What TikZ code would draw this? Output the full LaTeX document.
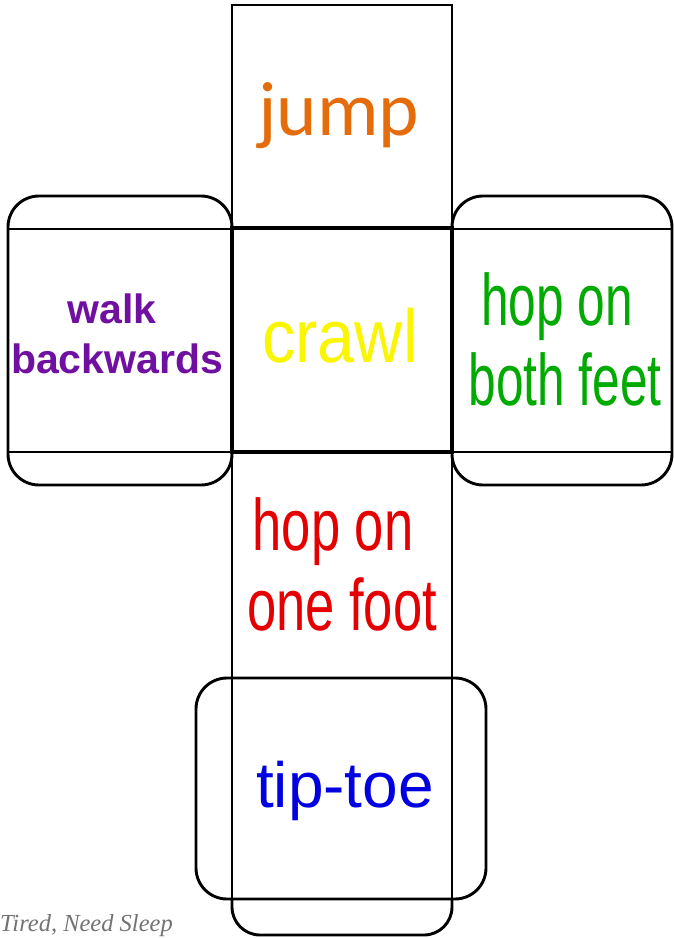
\documentclass[tikz,border=0pt]{standalone}
\usepackage{fontspec}
\setmainfont{Liberation Sans}
\newfontfamily\calib{Carlito}
\newfontfamily\wmark{Liberation Serif}
\definecolor{cOrange}{RGB}{228,108,10}
\definecolor{cYellow}{RGB}{250,245,0}
\definecolor{cPurple}{RGB}{112,16,160}
\definecolor{cGreen}{RGB}{0,170,0}
\definecolor{cRed}{RGB}{228,0,0}
\definecolor{cBlue}{RGB}{0,0,225}
\begin{document}
\begin{tikzpicture}[x=1pt,y=-1pt,
  edge/.style={draw=black,line width=2.9pt},
  thickedge/.style={draw=black,line width=4.2pt},
  flap/.style={draw=black,line width=2.9pt,rounded corners=31pt},
  lbl/.style={inner sep=0pt,anchor=base}]
\useasboundingbox[fill=white] (0,0) rectangle (674,938);
% flaps
\draw[flap] (8,196) rectangle (232,485);
\draw[flap] (452,196) rectangle (672,485);
\draw[flap] (196,678) rectangle (486,899);
\draw[edge,rounded corners=28pt] (232,899) -- (232,935) -- (452,935) -- (452,899);
\draw[edge] (8,229) -- (232,229);
\draw[edge] (8,452) -- (232,452);
\draw[edge] (452,229) -- (672,229);
\draw[edge] (452,452) -- (672,452);
% column of faces
\draw[edge] (232,5) rectangle (452,228);
\draw[edge] (232,452) rectangle (452,678);
\draw[edge] (232,678) rectangle (452,899);
\draw[thickedge] (232,228) rectangle (452,452);
% labels
\node[lbl,text=cOrange,font=\calib\fontsize{77}{80}\selectfont] (jump) at (339,135) {jump};
\node[lbl,text=cYellow,font=\fontsize{75}{80}\selectfont] (crawl) at (340,362) {\scalebox{0.89}[1]{crawl}};
\node[lbl,text=cPurple,font=\bfseries\fontsize{41}{50}\selectfont] (walk1) at (112,323) {walk};
\node[lbl,text=cPurple,font=\bfseries\fontsize{41}{50}\selectfont] (walk2) at (117,373) {backwards};
\node[lbl,text=cGreen,font=\fontsize{73}{80}\selectfont] (both1) at (557,325) {\scalebox{0.68}[1]{hop on}};
\node[lbl,text=cGreen,font=\fontsize{73}{80}\selectfont] (both2) at (565,405) {\scalebox{0.68}[1]{both feet}};
\node[lbl,text=cRed,font=\fontsize{73}{80}\selectfont] (one1) at (333,550) {\scalebox{0.72}[1]{hop on}};
\node[lbl,text=cRed,font=\fontsize{73}{80}\selectfont] (one2) at (342,630) {\scalebox{0.72}[1]{one foot}};
\node[lbl,text=cBlue,font=\fontsize{64}{70}\selectfont] (tiptoe) at (345,807) {tip-toe};
\node[inner sep=0pt,anchor=base west,text=black!55,font=\wmark\itshape\fontsize{24.5}{26}\selectfont] (wm) at (0,931) {Tired, Need Sleep};
\end{tikzpicture}
\end{document}
